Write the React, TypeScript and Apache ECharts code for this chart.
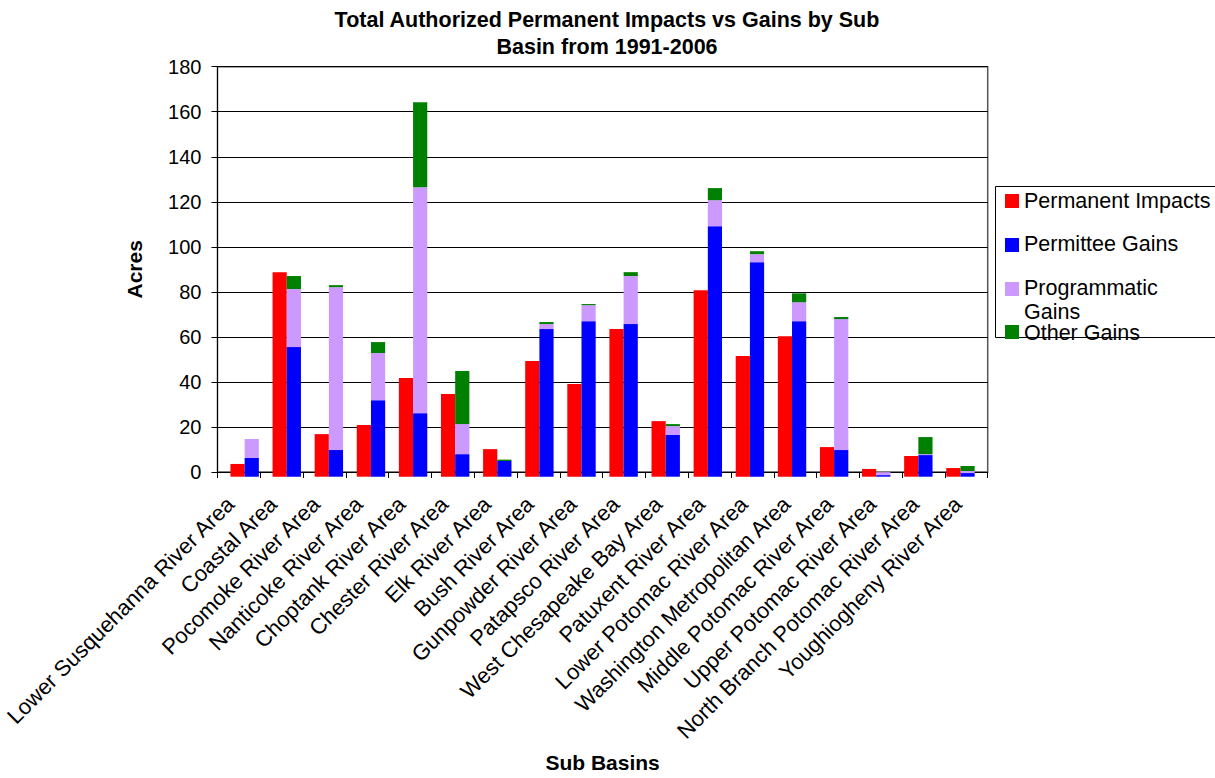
import React, { useEffect, useRef } from "react";
import * as echarts from "echarts";

const categories = [
  "Lower Susquehanna River Area",
  "Coastal Area",
  "Pocomoke River Area",
  "Nanticoke River Area",
  "Choptank River Area",
  "Chester River Area",
  "Elk River Area",
  "Bush River Area",
  "Gunpowder River Area",
  "Patapsco River Area",
  "West Chesapeake Bay Area",
  "Patuxent River Area",
  "Lower Potomac River Area",
  "Washington Metropolitan Area",
  "Middle Potomac River Area",
  "Upper Potomac River Area",
  "North Branch Potomac River Area",
  "Youghiogheny River Area",
];

const permanentImpacts = [5.6, 89.8, 18.7, 22.7, 43.3, 36.3, 12.1, 50.8, 40.7, 64.8, 24.4, 81.9, 53.0, 61.7, 13.0, 3.4, 9.1, 3.8];
const permitteeGains = [8.2, 56.9, 11.7, 33.6, 27.9, 9.9, 6.9, 64.8, 68.3, 67.0, 18.3, 110.0, 94.2, 68.3, 11.7, 0.7, 9.5, 1.6];
const programmaticGains = [8.3, 25.5, 71.5, 20.7, 99.2, 13.2, 0, 2.2, 7.0, 21.1, 3.9, 11.4, 3.5, 8.3, 57.5, 1.3, 0.4, 0.9];
const otherGains = [0, 5.7, 0.9, 4.8, 37.3, 23.3, 0.6, 0.9, 0.5, 1.7, 0.9, 5.3, 1.3, 3.9, 0.9, 0, 7.5, 2.2];

const yTicks = { min: 0, max: 180, interval: 20 };

const seriesNames = ["Permanent Impacts", "Permittee Gains", "Programmatic Gains", "Other Gains"];
const seriesColors = ["#FF0000", "#0000FF", "#CC99FF", "#008000"];
const legendLabels = ["Permanent Impacts", "Permittee Gains", "Programmatic\nGains", "Other Gains"];

const FONT = "'Liberation Sans', Arial, sans-serif";

export default function App() {
  const ref = useRef<HTMLDivElement>(null);

  useEffect(() => {
    document.body.style.margin = "0";
    if (!ref.current) return;
    const chart = echarts.init(ref.current, undefined, { renderer: "svg" });

    // visible axes / gridlines
    const plot = { left: 216.7, right: 1215 - 987.7, top: 66.7, bottom: 778 - 476.7 };
    // bar placement grid (slightly narrower spacing than the tick grid)
    const barPlot = { left: 223.6, right: 1215 - 981.5, top: 66.7, bottom: 778 - 476.7 };

    const seriesData = [permanentImpacts, permitteeGains, programmaticGains, otherGains];
    const stacks = ["impacts", "gains", "gains", "gains"];

    const legendRows = [
      { sq: 194, text: 201 },
      { sq: 238, text: 244 },
      { sq: 282, text: 276, top: true },
      { sq: 325, text: 333 },
    ];

    const legendGraphics: any[] = [
      {
        type: "rect",
        shape: { x: 995.5, y: 186.5, width: 240, height: 151 },
        style: { fill: "#fff", stroke: "#000", lineWidth: 1 },
        z: 10,
      },
    ];
    legendRows.forEach((row, i) => {
      legendGraphics.push({
        type: "rect",
        shape: { x: 1005, y: row.sq, width: 14, height: 14 },
        style: { fill: seriesColors[i] },
        z: 11,
      });
      legendGraphics.push({
        type: "text",
        x: 1024,
        y: row.text,
        style: {
          text: legendLabels[i],
          font: `21.5px ${FONT}`,
          fill: "#000",
          textVerticalAlign: row.top ? "top" : "middle",
          lineHeight: 24,
        },
        z: 11,
      });
    });

    chart.setOption({
      animation: false,
      backgroundColor: "#fff",
      textStyle: { fontFamily: FONT },
      title: {
        text: "Total Authorized Permanent Impacts vs Gains by Sub\nBasin from 1991-2006",
        left: 602,
        top: 1,
        textAlign: "center",
        textStyle: { fontSize: 21.5, fontWeight: "bold", color: "#000", lineHeight: 27, fontFamily: FONT },
      },
      grid: [
        { ...plot, show: true, borderColor: "#555", borderWidth: 1.5, backgroundColor: "transparent" },
        { ...barPlot },
      ],
      xAxis: [
        {
          gridIndex: 0,
          type: "category",
          data: categories,
          name: "Sub Basins",
          nameLocation: "middle",
          nameGap: 280,
          nameTextStyle: { fontSize: 21, fontWeight: "bold", color: "#000", fontFamily: FONT },
          axisLine: { lineStyle: { color: "#000", width: 1 } },
          axisTick: { show: true, length: 6, lineStyle: { color: "#000" } },
          axisLabel: {
            interval: 0,
            rotate: 45,
            margin: 20,
            padding: [0, 12, 0, 0],
            fontSize: 22,
            color: "#000",
            fontFamily: FONT,
          },
          splitLine: { show: false },
        },
        {
          gridIndex: 1,
          type: "category",
          data: categories,
          show: false,
        },
      ],
      yAxis: [
        {
          gridIndex: 0,
          type: "value",
          min: yTicks.min,
          max: yTicks.max,
          interval: yTicks.interval,
          name: "Acres",
          nameLocation: "middle",
          nameGap: 72,
          nameTextStyle: { fontSize: 21, fontWeight: "bold", color: "#000", fontFamily: FONT },
          axisLine: { show: true, lineStyle: { color: "#000", width: 1 } },
          axisTick: { show: true, length: 6, lineStyle: { color: "#000" } },
          axisLabel: { margin: 16, fontSize: 20, color: "#000", fontFamily: FONT },
          splitLine: { show: true, lineStyle: { color: "#000", width: 1 } },
        },
        {
          gridIndex: 1,
          type: "value",
          min: yTicks.min,
          max: yTicks.max,
          show: false,
        },
      ],
      series: seriesData.map((data, i) => ({
        name: seriesNames[i],
        type: "bar",
        xAxisIndex: 1,
        yAxisIndex: 1,
        stack: stacks[i],
        data,
        barWidth: 14.2,
        barGap: "0%",
        itemStyle: { color: seriesColors[i] },
      })),
      graphic: legendGraphics,
    });

    return () => chart.dispose();
  }, []);

  return <div ref={ref} style={{ width: 1215, height: 778 }} />;
}
